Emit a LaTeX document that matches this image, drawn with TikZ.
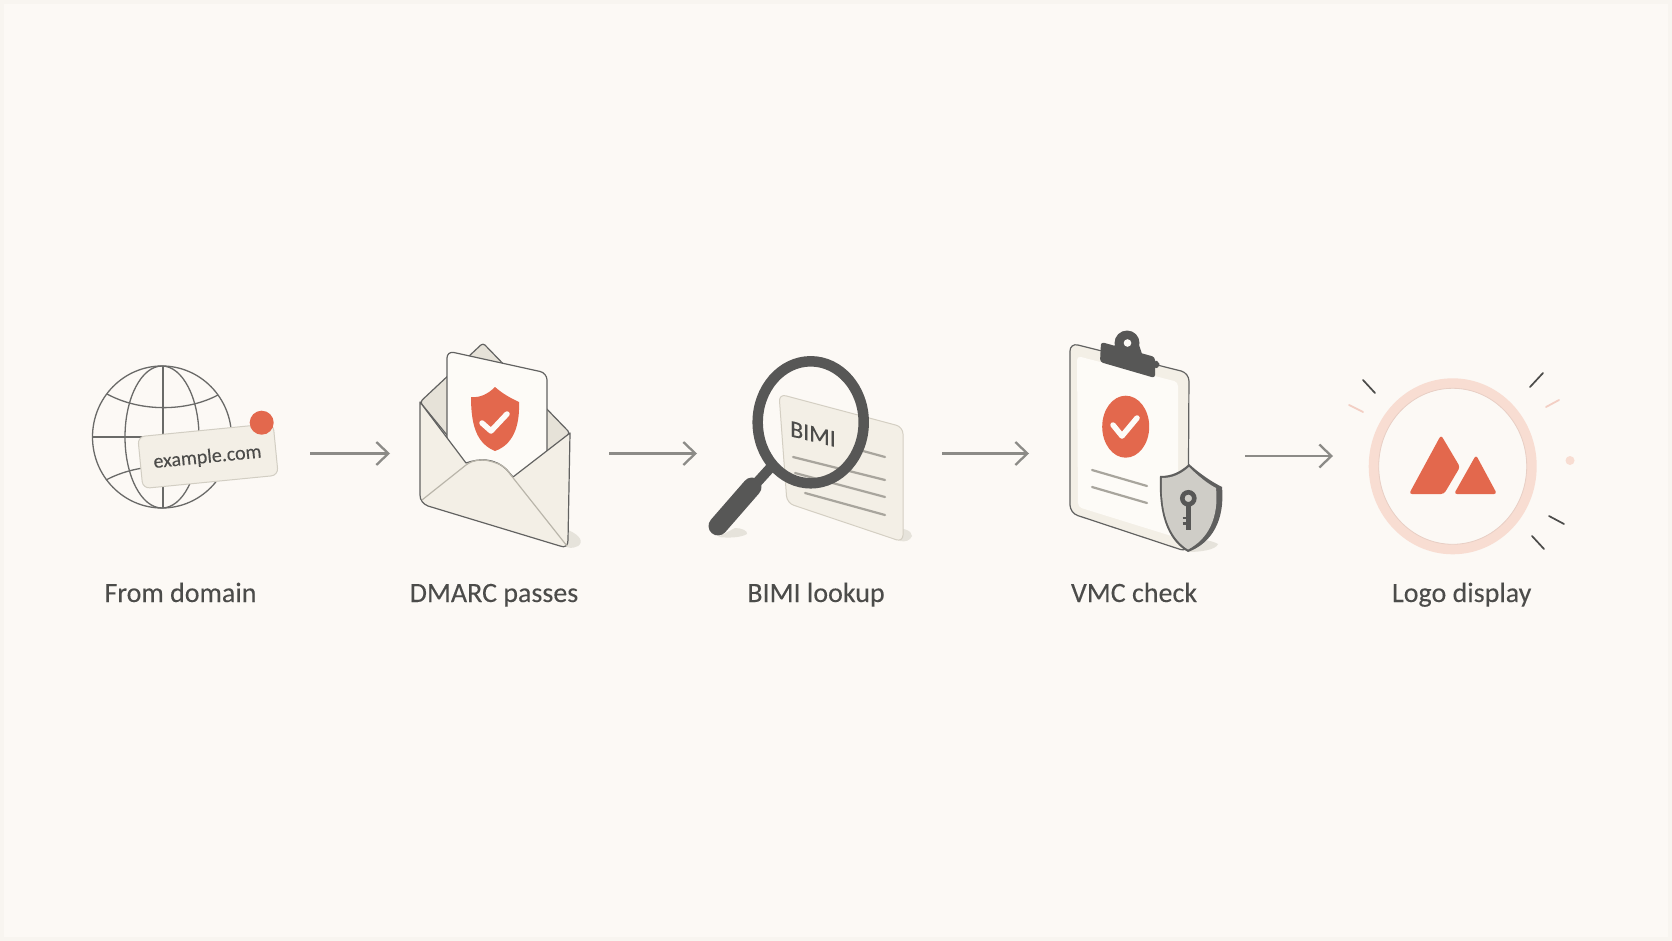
\documentclass[tikz,border=0pt]{standalone}
\usepackage{fontspec}
\setmainfont{Carlito}
\newfontfamily\capfont{Carlito}[FakeBold=0.12]
\usetikzlibrary{arrows.meta}
\definecolor{bgc}{HTML}{FCF9F5}
\definecolor{edgec}{HTML}{F8F5F0}
\definecolor{ink}{HTML}{4C4C4A}
\definecolor{globec}{HTML}{6A6A68}
\definecolor{linec}{HTML}{626261}
\definecolor{arrowc}{HTML}{8C8B87}
\definecolor{redc}{HTML}{E3684D}
\definecolor{cream}{HTML}{F3EFE6}
\definecolor{creamd}{HTML}{E6E2D8}
\definecolor{paperc}{HTML}{FDFBF7}
\definecolor{shadowc}{HTML}{E6E3DB}
\definecolor{darkc}{HTML}{575756}
\definecolor{rulec}{HTML}{A8A59D}
\definecolor{pinkc}{HTML}{F8DDD2}
\definecolor{softpink}{HTML}{F3CFC4}
\definecolor{tagedge}{HTML}{D2CEC3}
\definecolor{flapedge}{HTML}{B9B5AA}
\definecolor{cardedge}{HTML}{D4CFC3}
\definecolor{shieldout}{HTML}{5F5F5E}
\definecolor{shieldin}{HTML}{CFCDC7}
\definecolor{ringedge}{HTML}{E8CFC5}
\tikzset{
  x=1pt,y=-1pt,
  slot/.style={inner sep=0pt,outer sep=0pt,minimum height=20pt},
  caption/.style={font=\capfont\fontsize{28}{32}\selectfont,text=ink,anchor=base},
  flow/.style={draw=arrowc,line width=2.3pt,-{Straight Barb[length=12pt,width=23pt,line width=2.3pt]}},
  globeline/.style={draw=globec,line width=1.3pt},
  ray/.style={draw=ink,line width=1.7pt,line cap=round},
  softray/.style={draw=softpink,line width=1.8pt,line cap=round},
  textrule/.style={draw=rulec,line width=2.2pt,line cap=round},
  outline/.style={draw=linec,line width=1.2pt,line join=round},
  check/.style={draw=paperc,line width=5.5pt,line cap=round,line join=round}
}
\begin{document}
\begin{tikzpicture}
\useasboundingbox (0,0) rectangle (1672,941);
\fill[edgec] (0,0) rectangle (1672,941);
\fill[bgc] (4,4) rectangle (1668,937);

% anchors for the connectors
\node[slot,minimum width=218pt] (from) at (201,453.5) {};
\node[slot,minimum width=219pt] (dmarc) at (499.5,453.5) {};
\node[slot,minimum width=245pt] (bimi) at (819.5,453.5) {};
\node[slot,minimum width=216pt] (vmc) at (1137,453.5) {};
\node[slot,minimum width=240pt] (logo) at (1453,453.5) {};

% --- globe
\draw[globeline] (162,437) ellipse [x radius=69.5,y radius=71];
\draw[globeline] (162,437) ellipse [x radius=37,y radius=71];
\draw[globeline] (163,366) -- (163,508);
\draw[globeline] (92.5,437) -- (231.5,437);
\draw[globeline] (107,394) .. controls (140,412) and (186,412) .. (218,395);
\draw[globeline] (106,480) .. controls (140,462) and (186,462) .. (218,480);
\node[draw=tagedge,fill=cream,line width=1pt,rounded corners=7pt,minimum width=136pt,minimum height=52pt,rotate=5.6,inner sep=0pt] (tag) at (208,456) {};
\node[rotate=5.6,text=ink,font=\capfont\fontsize{20}{24}\selectfont] (tagtext) at (207.5,457.5) {example.com};
\fill[redc] (261.7,422.7) circle (12);

% --- envelope
\fill[shadowc] (568,530) .. controls (580,535) and (584,542) .. (578,546) .. controls (572,549) and (568,548) .. (565,546) -- cycle;
\draw[outline,fill=creamd,rounded corners=3pt] (420,402) -- (483,343) -- (570,433) -- (500,500) -- cycle;
\draw[draw=linec,line width=1.2pt,fill=paperc,rounded corners=7pt] (447,351) -- (547,373) -- (547,520) -- (447,480) -- cycle;
\fill[redc] (495,387) .. controls (505,396) and (517,401) .. (519,402) .. controls (520,428) and (512,445) .. (495,451) .. controls (478,444) and (471,428) .. (471,397) .. controls (480,398) and (488,394) .. (495,387) -- cycle;
\draw[check] (482,423) -- (491,431) -- (507,414);
\draw[outline,fill=cream] (420,402) -- (466,463) .. controls (480,458) and (495,458) .. (507,470) -- (513,477) -- (570,433) -- (568,540) .. controls (568,546) and (565,548) .. (560,546) -- (428,506) .. controls (423,504) and (420,500) .. (420,495) -- cycle;
\draw[draw=flapedge,line width=1.2pt,line join=round] (422,500) -- (466,465) .. controls (474,459) and (484,459) .. (493,462) .. controls (503,465) and (506,468) .. (510,474) -- (567,546);

% --- magnifier
\fill[shadowc] (895,528) .. controls (902,528) and (912,530) .. (912,536) .. controls (910,541) and (905,542) .. (900,541) -- cycle;
\fill[shadowc] (735,528) .. controls (742,528) and (748,531) .. (747,534) .. controls (740,538) and (728,538) .. (718,537) -- cycle;
\draw[draw=cardedge,fill=cream,line width=1pt,rounded corners=7pt] (779,394) -- (903,427) -- (903,542) -- (787,503) -- cycle;
\draw[textrule] (863,451) -- (885,457);
\draw[textrule] (793,457) -- (885,480);
\draw[textrule] (795,473) -- (885,497);
\draw[textrule] (805,493) -- (885,515);
\begin{scope}[shift={(813,434)},yslant=-0.24,transform shape]
\node[text=ink,font=\capfont\fontsize{24}{28}\selectfont,inner sep=0pt] (bimitext) at (0,0) {BIMI};
\end{scope}
\draw[draw=darkc,line width=10pt] (772,466) -- (752,488);
\draw[draw=darkc,line width=19pt,line cap=round] (752,487) -- (718,526);
\draw[draw=darkc,line width=10.5pt] (810.7,422.3) ellipse [x radius=53,y radius=61];

% --- clipboard
\draw[draw=linec,line width=1.2pt,fill=cream,rounded corners=8pt] (1070,343) -- (1189,373) -- (1188,552) -- (1070,513) -- cycle;
\fill[paperc,rounded corners=4pt] (1077,356) -- (1178,382) -- (1178,538) -- (1078,507) -- cycle;
\fill[darkc] (1127,343) circle (12.5);
\fill[darkc] (1115,345) -- (1139,345) -- (1144,360) -- (1110,352) -- cycle;
\fill[paperc] (1127.5,343) circle (3.8);
\fill[darkc,rounded corners=2pt] (1155,360) -- (1159,362) -- (1160,366) -- (1155,369) -- cycle;
\fill[darkc,rounded corners=3pt] (1101,342) -- (1155,357) -- (1155,378) -- (1100,362) -- cycle;
\fill[redc] (1125.7,426.7) ellipse [x radius=23.5,y radius=31];
\draw[check] (1113,425) -- (1122,436) -- (1137,418);
\draw[textrule] (1092,470) -- (1147,486);
\draw[textrule] (1092,487) -- (1147,503);
\fill[shadowc] (1188,552) .. controls (1200,552) and (1216,550) .. (1218,544) .. controls (1210,540) and (1205,540) .. (1200,540) -- cycle;
\fill[shieldout] (1189,464) .. controls (1200,474) and (1212,482) .. (1222,487) .. controls (1225,520) and (1212,543) .. (1188,552) .. controls (1172,543) and (1158,522) .. (1160,476) .. controls (1172,476) and (1180,472) .. (1189,464) -- cycle;
\fill[shieldin] (1189,467) .. controls (1198,476) and (1208,484) .. (1216,488) .. controls (1219,518) and (1208,539) .. (1188,549.5) .. controls (1173,540) and (1160,520) .. (1162,478) .. controls (1173,478) and (1181,474) .. (1189,467) -- cycle;
\draw[draw=darkc,line width=4.6pt] (1188.3,498.3) circle (6);
\draw[draw=darkc,line width=5pt] (1188.3,505) -- (1188.3,530);
\draw[draw=darkc,line width=2.6pt] (1182.5,518) -- (1188,518) (1182.5,523.5) -- (1188,523.5);

% --- logo
\draw[draw=pinkc,line width=10pt] (1452.7,466.3) ellipse [x radius=79,y radius=83];
\draw[draw=ringedge,line width=0.8pt] (1452.7,466.3) ellipse [x radius=74,y radius=78];
\fill[redc,rounded corners=3pt] (1441,435) -- (1409,494) -- (1444,494) -- (1460,467) -- cycle;
\fill[redc,rounded corners=3pt] (1476,455) -- (1454,494) -- (1497,494) -- cycle;
\draw[ray] (1363,380) -- (1375,393);
\draw[ray] (1543,373) -- (1530,387);
\draw[ray] (1549,516) -- (1564,524);
\draw[ray] (1532,536) -- (1544,549);
\draw[softray] (1349,405) -- (1363,412);
\draw[softray] (1546,407) -- (1559,400);
\fill[pinkc] (1570,460.5) circle (4.5);

% --- connectors
\draw[flow] (from.east) -- (dmarc.west);
\draw[flow] (dmarc.east) -- (bimi.west);
\draw[flow] (bimi.east) -- (vmc.west);
\draw[flow] ([yshift=-2.5pt]vmc.east) -- ([yshift=-2.5pt]logo.west);

% --- captions
\node[caption] (c1) at (180.5,602) {From domain};
\node[caption] (c2) at (494,602) {DMARC passes};
\node[caption] (c3) at (816,602) {BIMI lookup};
\node[caption] (c4) at (1134,602) {VMC check};
\node[caption] (c5) at (1461.7,602) {Logo display};
\end{tikzpicture}
\end{document}
